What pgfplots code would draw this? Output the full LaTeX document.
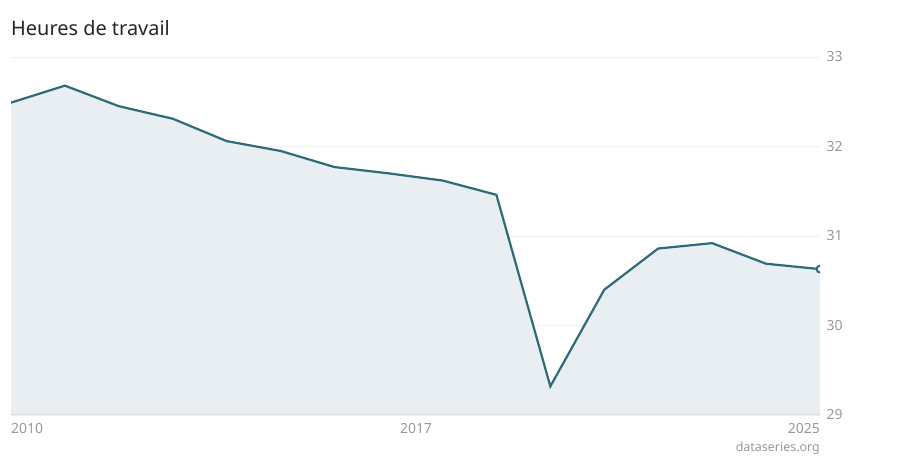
\documentclass[border=0pt]{standalone}
\usepackage{fontspec}
\setmainfont{Noto Sans}
\usepackage{pgfplots}
\pgfplotsset{compat=1.18}
\definecolor{linec}{HTML}{2E6B78}
\definecolor{fillc}{HTML}{E8EEF1}
\definecolor{gridc}{HTML}{EFEFEF}
\definecolor{tickc}{HTML}{999999}
\begin{document}
\begin{tikzpicture}[x=1bp,y=1bp]
\path[use as bounding box] (0,0) rectangle (900,460);
\begin{axis}[
    at={(11bp,45bp)}, anchor=south west,
    scale only axis,
    width=809bp, height=358bp,
    xmin=2010, xmax=2025,
    ymin=29, ymax=33,
    axis line style={draw=none},
    ytick={29,30,31,32,33},
    yticklabel pos=right,
    yticklabel style={font=\fontsize{14}{14}\selectfont, text=tickc, anchor=west, xshift=3bp},
    /pgf/number format/assume math mode=true,
    xtick=\empty,
    major tick length=0pt,
    ymajorgrids,
    grid style={gridc, line width=0.8bp},
    clip=true,
]
\addplot[fill=fillc, draw=none] coordinates {
  (2010,32.49) (2011,32.68) (2012,32.45) (2013,32.31) (2014,32.06)
  (2015,31.95) (2016,31.77) (2017,31.70) (2018,31.62) (2019,31.46)
  (2020,29.32) (2021,30.40) (2022,30.86) (2023,30.92) (2024,30.69)
  (2025,30.63)
} \closedcycle;
\addplot[linec, line width=2.2bp] coordinates {
  (2010,32.49) (2011,32.68) (2012,32.45) (2013,32.31) (2014,32.06)
  (2015,31.95) (2016,31.77) (2017,31.70) (2018,31.62) (2019,31.46)
  (2020,29.32) (2021,30.40) (2022,30.86) (2023,30.92) (2024,30.69)
  (2025,30.63)
};
\addplot[linec, only marks, mark=*, mark size=3.4bp,
  mark options={fill=white, draw=linec, line width=2bp}, clip mode=individual] coordinates {(2025,30.63)};
\end{axis}
\draw[color=black!13, line width=1bp] (11,45) -- (820,45);
\begin{scope}[font=\fontsize{14}{14}\selectfont, text=tickc]
\node[anchor=base west, inner sep=0pt] at (11,26) {2010};
\node[anchor=base, inner sep=0pt] at (416,26) {2017};
\node[anchor=base east, inner sep=0pt] at (820,26) {2025};
\end{scope}
\node[anchor=base west, inner sep=0pt, font=\fontsize{20}{20}\selectfont, text=black!85] at (11,424) {Heures de travail};
\node[anchor=base east, inner sep=0pt, font=\fontsize{12.5}{13}\selectfont, text=tickc] at (820,8) {dataseries.org};
\end{tikzpicture}
\end{document}
